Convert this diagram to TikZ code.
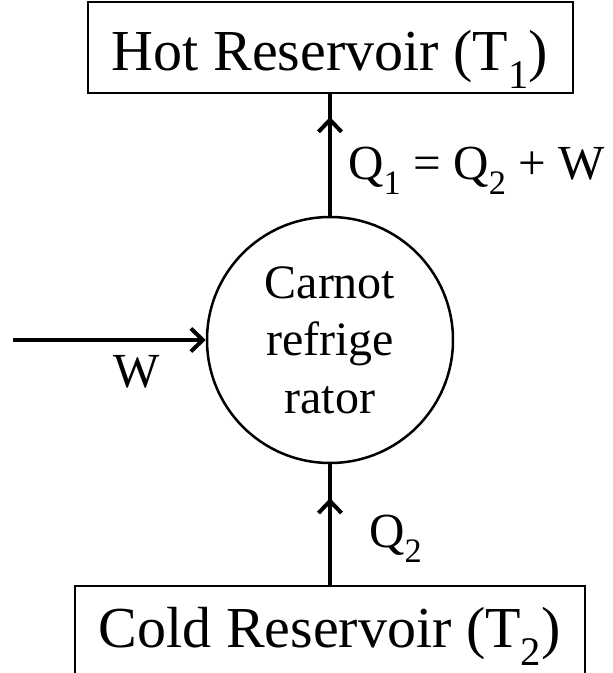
\documentclass[tikz,border=0pt]{standalone}
\usepackage{fontspec}
\setmainfont{Liberation Serif}
\usetikzlibrary{arrows.meta,positioning,decorations.markings}
\tikzset{
  box/.style={draw,line width=2pt,minimum height=91pt,inner sep=0pt,text height=47pt,text depth=0pt,font=\fontsize{58}{60}\selectfont},
  eng/.style={draw,circle,line width=2.5pt,minimum size=246pt,inner sep=0pt,align=center,font=\fontsize{48}{57.5}\selectfont},
  arr/.style={-{Straight Barb[length=12pt,width=23pt]},line width=4pt},
  flow/.style={line width=4pt,postaction={decorate},decoration={markings,mark=at position #1 with {\arrow{Straight Barb[length=12pt,width=23pt]}}}},
  lbl/.style={font=\fontsize{49}{55}\selectfont,inner sep=0pt},
}

\begin{document}
\begin{tikzpicture}[x=1pt,y=1pt]
 \useasboundingbox (0,0) rectangle (613,673);
 \node[eng] (carnot) at (330,333) {Carnot\\refrige\\rator};
 \node[box,minimum width=485pt,above=122pt of carnot] (hot) {Hot Reservoir (T\textsubscript{1})};
 \node[box,minimum width=510pt,text height=31pt,below=121pt of carnot] (cold) {Cold Reservoir (T\textsubscript{2})};
 \coordinate (wsrc) at (13,333);
 % heat and work flows
 \draw[flow=0.81] (carnot) -- (hot);
 \draw[flow=0.72] (cold) -- (carnot);
 \draw[arr] (wsrc) -- (carnot);
 \node[lbl,anchor=base west] (qhot) at (348,493) {Q\textsubscript{1} = Q\textsubscript{2} + W};
 \node[lbl,anchor=base west] (qcold) at (369,125) {Q\textsubscript{2}};
 \node[lbl,anchor=base west] (wlbl) at (113,285) {W};
\end{tikzpicture}
\end{document}
